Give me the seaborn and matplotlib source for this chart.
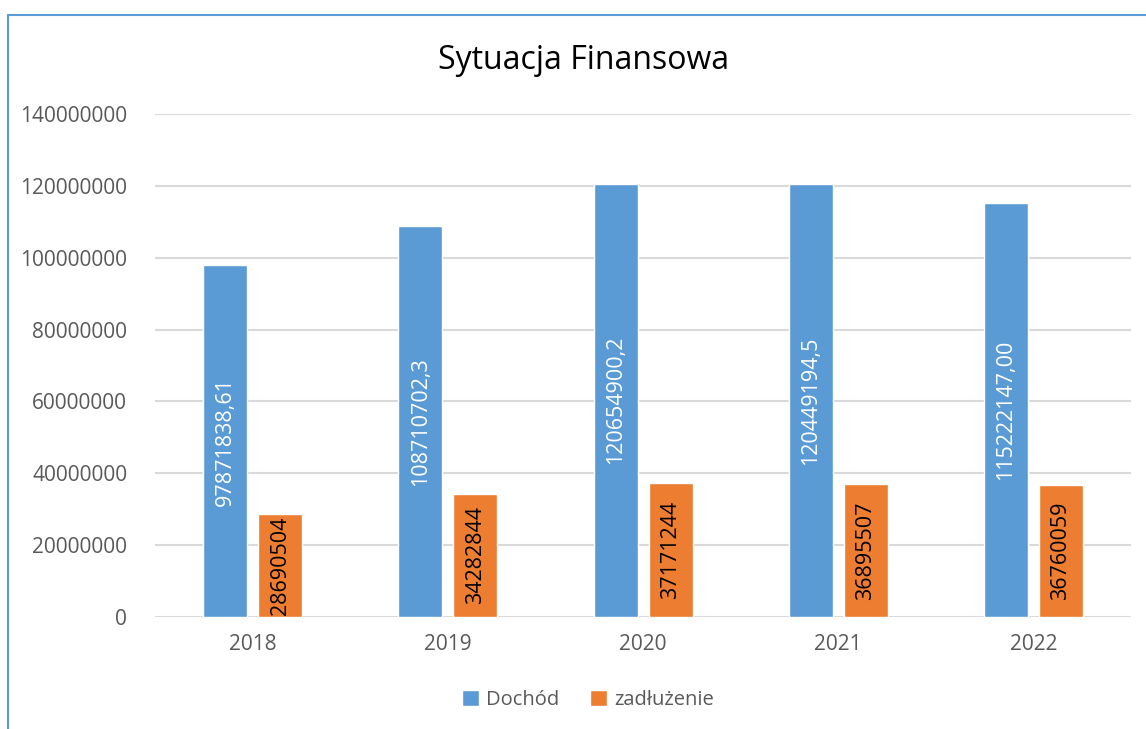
import matplotlib
matplotlib.use("Agg")
import matplotlib.pyplot as plt
import seaborn as sns
import pandas as pd
from matplotlib.lines import Line2D

years = ["2018", "2019", "2020", "2021", "2022"]
dochod = [97871838.61, 108710702.3, 120654900.2, 120449194.5, 115222147.00]
zadluzenie = [28690504, 34282844, 37171244, 36895507, 36760059]
dochod_labels = ["97871838,61", "108710702,3", "120654900,2", "120449194,5", "115222147,00"]
zadl_labels = ["28690504", "34282844", "37171244", "36895507", "36760059"]
series = ["Dochód", "zadłużenie"]
colors = ["#5B9BD5", "#ED7D31"]
yticks = [0, 20000000, 40000000, 60000000, 80000000, 100000000, 120000000, 140000000]

df = pd.DataFrame({
    "year": years * 2,
    "value": dochod + zadluzenie,
    "series": [series[0]] * len(years) + [series[1]] * len(years),
})

sns.set_theme(style="white")
plt.rcParams["font.family"] = ["Open Sans", "DejaVu Sans"]

fig = plt.figure(figsize=(11.46, 7.29), dpi=100)
ax = fig.add_axes([0.1353, 0.1536, 0.8517, 0.69])

sns.barplot(data=df, x="year", y="value", hue="series", palette=colors,
            width=0.564, gap=0.2, ax=ax, legend=True, saturation=1)

for c, labs, col in zip(ax.containers, [dochod_labels, zadl_labels], ["white", "black"]):
    ax.bar_label(c, labels=labs, label_type="center", rotation=90,
                 color=col, fontsize=15.5)

ax.set_ylim(0, 140000000)
ax.set_yticks(yticks)
ax.set_yticklabels([str(v) for v in yticks])
ax.set_xlim(-0.5, len(years) - 0.5)
ax.yaxis.grid(True, color="#D9D9D9", linewidth=1.5)
ax.set_axisbelow(True)
for s in ax.spines.values():
    s.set_visible(False)
ax.tick_params(axis="both", length=0, labelsize=15, labelcolor="#595959")
ax.tick_params(axis="y", pad=20)
ax.tick_params(axis="x", pad=12)
ax.set_xlabel("")
ax.set_ylabel("")

ax.legend(loc="center", bbox_to_anchor=(588 / 1146, 1 - 700 / 729),
          bbox_transform=fig.transFigure, ncol=2, frameon=False,
          fontsize=14.5, handlelength=0.85, handleheight=0.85, handletextpad=0.35,
          columnspacing=1.5, labelcolor="#595959")

fig.text(0.509, 0.917, "Sytuacja Finansowa", ha="center", va="center",
         fontsize=23, color="#000000")

fig.add_artist(Line2D([8 / 1146, 8 / 1146], [0, 1 - 15 / 729], color="#5B9BD5", linewidth=1.5))
fig.add_artist(Line2D([8 / 1146, 1], [1 - 15 / 729, 1 - 15 / 729], color="#5B9BD5", linewidth=1.5))

fig.savefig("out.png", dpi=100)
